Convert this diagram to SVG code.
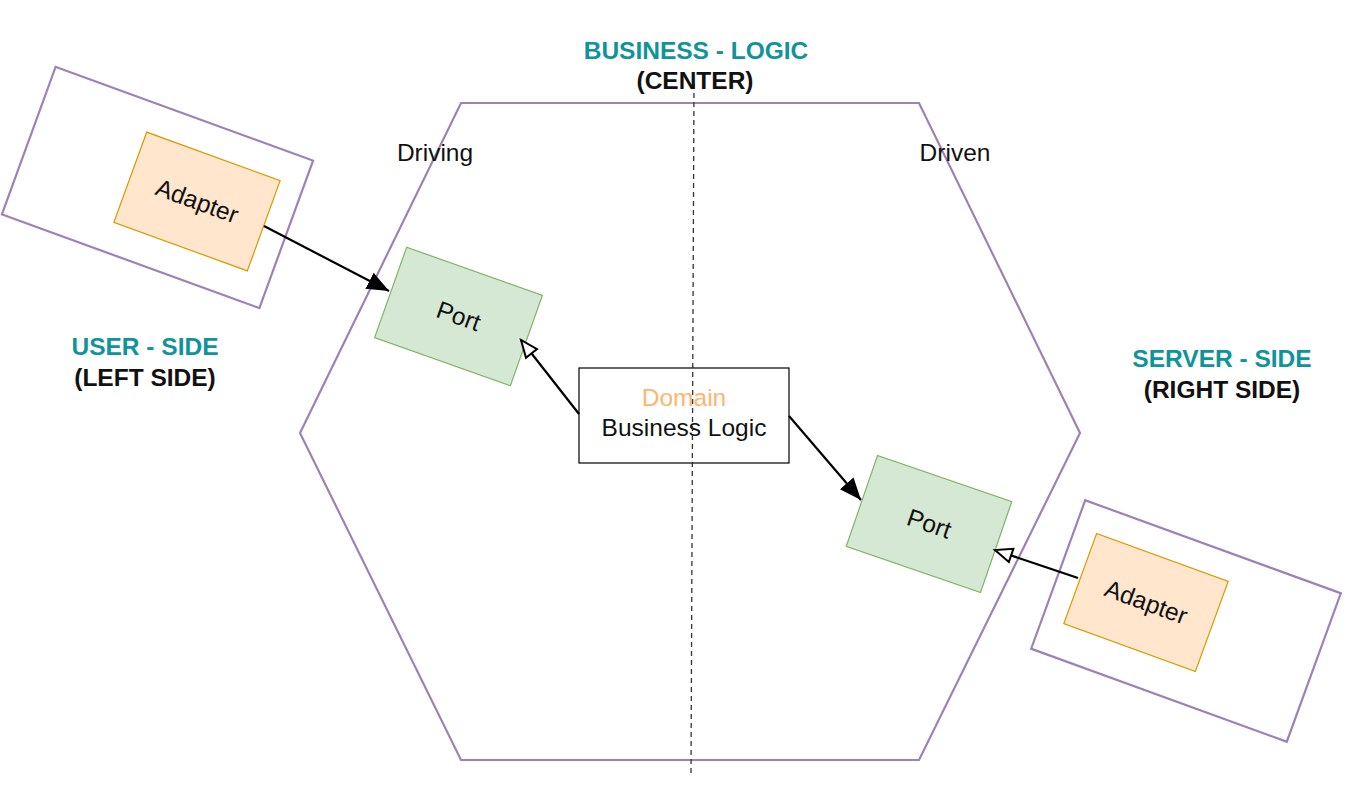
<svg xmlns="http://www.w3.org/2000/svg" width="1346" height="791" viewBox="0 0 1346 791">
<style>
.hex{fill:none;stroke:#9d82b4;stroke-width:2.2}
.outer{fill:#fff;stroke:#9d82b4;stroke-width:2.2}
.adapter{fill:#ffe6cc;stroke:#d79b00;stroke-width:1.2}
.port{fill:#d5e8d4;stroke:#82b366;stroke-width:1.2}
.dom{fill:#fff;stroke:#000;stroke-width:1.2}
.t{font-family:"Liberation Sans",Arial,sans-serif;font-size:24.5px;fill:#111;text-anchor:middle}
.h{font-family:"Liberation Sans",Arial,sans-serif;font-size:24.5px;font-weight:bold;text-anchor:middle}
.teal{fill:#10939a}
.blk{fill:#111}
.c{stroke:#000;stroke-width:2.2;fill:none}
</style>
<defs>
<marker id="fa" markerWidth="24" markerHeight="20" refX="22" refY="10" orient="auto" markerUnits="userSpaceOnUse"><path d="M0,1 L22,10 L0,19 Z" fill="#000"/></marker>
<marker id="oa" markerWidth="22" markerHeight="18" refX="19" refY="9" orient="auto" markerUnits="userSpaceOnUse"><path d="M2,2 L19,9 L2,16 Z" fill="#fff" stroke="#000" stroke-width="2"/></marker>
</defs>
<rect width="1346" height="791" fill="#fff"/>
<g id="hexagon"><polygon class="hex" points="461,103 919,103 1080,433 919,760 461,760 300,433"/></g>
<g id="left-outer"><rect class="outer" x="-137" y="-78.5" width="274" height="157" transform="translate(157.5,187.5) rotate(20)"/></g>
<g id="left-adapter" transform="translate(197,201.5) rotate(20)"><rect class="adapter" x="-71" y="-48" width="142" height="96"/><text class="t" x="0" y="8">Adapter</text></g>
<g id="left-port" transform="translate(458.5,316.5) rotate(19.5)"><rect class="port" x="-72" y="-48" width="144" height="96"/><text class="t" x="0" y="8">Port</text></g>
<g id="right-outer"><rect class="outer" x="-136" y="-79" width="272" height="158" transform="translate(1186,621) rotate(20)"/></g>
<g id="right-adapter" transform="translate(1146,602.5) rotate(20)"><rect class="adapter" x="-70" y="-48" width="140" height="96"/><text class="t" x="0" y="8">Adapter</text></g>
<g id="right-port" transform="translate(929,524) rotate(19)"><rect class="port" x="-71" y="-48" width="142" height="96"/><text class="t" x="0" y="8">Port</text></g>
<g id="domain"><rect class="dom" x="579" y="368" width="210" height="95"/><text class="t" x="684" y="406" style="fill:#ffb570">Domain</text><text class="t" x="684" y="436">Business Logic</text></g>
<g id="connectors">
<line class="c" x1="264" y1="226" x2="389" y2="291" marker-end="url(#fa)"/>
<line class="c" x1="579" y1="414" x2="521" y2="340" marker-end="url(#oa)"/>
<line class="c" x1="789" y1="416" x2="861" y2="500" marker-end="url(#fa)"/>
<line class="c" x1="1078" y1="578" x2="995" y2="550" marker-end="url(#oa)"/>
</g>
<g id="divider"><line x1="694" y1="84" x2="691" y2="773" stroke="#333" stroke-width="1.3" stroke-dasharray="5,4"/></g>
<g id="labels">
<text class="h teal" x="696" y="59">BUSINESS - LOGIC</text>
<text class="h blk" x="695" y="89">(CENTER)</text>
<text class="h teal" x="145" y="355">USER - SIDE</text>
<text class="h blk" x="145" y="386">(LEFT SIDE)</text>
<text class="h teal" x="1222" y="367">SERVER - SIDE</text>
<text class="h blk" x="1222" y="398">(RIGHT SIDE)</text>
<text class="t" x="435" y="161">Driving</text>
<text class="t" x="955" y="161">Driven</text>
</g>
</svg>
